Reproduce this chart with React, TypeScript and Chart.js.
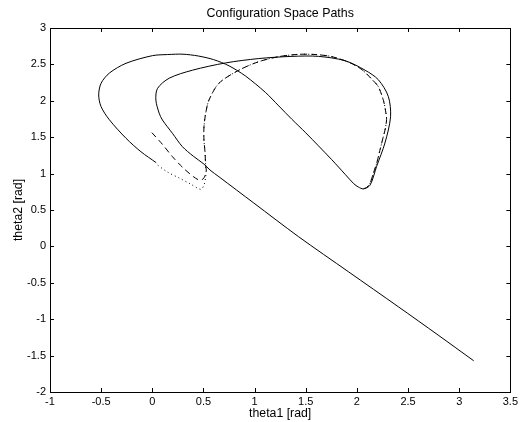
import React, { useEffect, useRef } from "react";
import { Chart, registerables } from "chart.js";

Chart.register(...registerables);

// Solid path (theta1, theta2)
const solidTheta1 = [
  0.038, -0.111, -0.257, -0.42, -0.501, -0.524, -0.501, -0.42, -0.257, 0.002, 0.15, 0.3, 0.45, 0.6, 0.75,
  0.911, 1.106, 1.236, 1.365, 1.5, 1.625, 1.755, 1.885, 1.97, 2.015, 2.063, 2.128, 2.193, 2.274, 2.329,
  2.307, 2.209, 2.08, 1.885, 1.625, 1.365, 1.041, 0.716, 0.392, 0.165, 0.051, 0.035, 0.067, 0.099, 0.197,
  0.294, 0.4, 0.505, 0.564, 0.651, 0.992, 1.43, 1.917, 2.404, 2.794, 3.1416,
];
const solidTheta2 = [
  1.15, 1.3, 1.485, 1.74, 1.92, 2.08, 2.24, 2.38, 2.515, 2.62, 2.635, 2.64, 2.615, 2.565, 2.48,
  2.34, 2.115, 1.93, 1.745, 1.56, 1.38, 1.19, 0.99, 0.86, 0.815, 0.79, 0.84, 1.1, 1.42, 1.78,
  2.06, 2.29, 2.42, 2.55, 2.61, 2.61, 2.58, 2.52, 2.42, 2.31, 2.17, 2.01, 1.83, 1.736, 1.553,
  1.37, 1.24, 1.13, 1.049, 0.957, 0.596, 0.133, -0.348, -0.828, -1.218, -1.5708,
];

// Shared return route of the dashed and dotted paths
const routeTheta1 = [
  0.522, 0.515, 0.505, 0.505, 0.522, 0.554, 0.651, 0.846, 1.04, 1.235, 1.43, 1.6, 1.755, 1.92, 2.047,
  2.15, 2.209, 2.26, 2.284, 2.29, 2.275, 2.258, 2.225, 2.193, 2.16, 2.128, 2.095, 2.063,
];
const routeTheta2 = [
  1.1, 1.3, 1.46, 1.64, 1.83, 2.01, 2.24, 2.42, 2.537, 2.606, 2.638, 2.635, 2.606, 2.53, 2.43,
  2.29, 2.194, 2.0, 1.828, 1.74, 1.6, 1.507, 1.32, 1.14, 1.0, 0.867, 0.81, 0.79,
];

// Dashed path start
const dashedTheta1 = [-0.004, 0.1, 0.197, 0.3, 0.4, 0.457, 0.495, 0.518, 0.528];
const dashedTheta2 = [1.562, 1.4, 1.232, 1.08, 0.96, 0.912, 0.925, 0.98, 1.05];

// Dotted path start
const dottedTheta1 = [0.038, 0.15, 0.262, 0.37, 0.473, 0.505, 0.522, 0.526];
const dottedTheta2 = [1.13, 1.02, 0.94, 0.86, 0.784, 0.843, 0.957, 1.05];

const xTicksMin = -1;
const xTicksMax = 3.5;
const yTicksMin = -2;
const yTicksMax = 3;
const tickStep = 0.5;

const zip = (xs: number[], ys: number[]) => xs.map((x, i) => ({ x, y: ys[i] }));
const fmt = (v: any) => String(Number(Number(v).toFixed(2)));

const FONT = "'Liberation Sans', Arial, Helvetica, sans-serif";

const boxTicks = {
  id: "boxTicks",
  afterDatasetsDraw(chart: any) {
    const { ctx, chartArea: a, scales } = chart;
    const x = scales.x;
    const y = scales.y;
    ctx.save();
    ctx.strokeStyle = "#000";
    ctx.lineWidth = 1;
    ctx.beginPath();
    const L = 4;
    x.ticks.forEach((t: any) => {
      const px = Math.round(x.getPixelForValue(t.value)) + 0.5;
      ctx.moveTo(px, a.bottom);
      ctx.lineTo(px, a.bottom - L);
      ctx.moveTo(px, a.top);
      ctx.lineTo(px, a.top + L);
    });
    y.ticks.forEach((t: any) => {
      const py = Math.round(y.getPixelForValue(t.value)) + 0.5;
      ctx.moveTo(a.left, py);
      ctx.lineTo(a.left + L, py);
      ctx.moveTo(a.right, py);
      ctx.lineTo(a.right - L, py);
    });
    ctx.stroke();
    ctx.strokeRect(
      Math.round(a.left) + 0.5,
      Math.round(a.top) + 0.5,
      Math.round(a.right - a.left),
      Math.round(a.bottom - a.top)
    );
    ctx.restore();
  },
};

export default function App() {
  const ref = useRef<HTMLCanvasElement>(null);

  useEffect(() => {
    if (!ref.current) return;
    const common = {
      showLine: true,
      pointRadius: 0,
      borderColor: "#000",
      borderWidth: 1,
      tension: 0.3,
      fill: false,
    };
    const chart = new Chart(ref.current, {
      type: "scatter",
      data: {
        datasets: [
          { ...common, data: zip(solidTheta1, solidTheta2) },
          {
            ...common,
            borderDash: [6, 4],
            data: zip(dashedTheta1.concat(routeTheta1), dashedTheta2.concat(routeTheta2)),
          },
          {
            ...common,
            borderDash: [1, 3],
            borderDashOffset: 2,
            data: zip(dottedTheta1.concat(routeTheta1), dottedTheta2.concat(routeTheta2)),
          },
        ],
      },
      options: {
        responsive: false,
        animation: false,
        layout: { padding: { left: 0, right: 9, top: 0, bottom: 0 } },
        plugins: {
          legend: { display: false },
          tooltip: { enabled: false },
          title: {
            display: true,
            text: "Configuration Space Paths",
            color: "#000",
            fullSize: false,
            font: { family: FONT, size: 12.4, weight: "normal" },
            padding: { top: 6.5, bottom: 6.6 },
          },
        },
        scales: {
          x: {
            type: "linear",
            min: xTicksMin,
            max: xTicksMax,
            afterFit: (s: any) => {
              s.height = 30;
            },
            border: { display: false },
            grid: { display: false, drawTicks: false },
            ticks: {
              stepSize: tickStep,
              color: "#000",
              padding: 3,
              maxRotation: 0,
              autoSkip: false,
              callback: fmt,
              font: { family: FONT, size: 11 },
            },
            title: {
              display: true,
              text: "theta1 [rad]",
              color: "#000",
              font: { family: FONT, size: 12.3 },
              padding: { top: 0, bottom: 1.5 },
            },
          },
          y: {
            type: "linear",
            min: yTicksMin,
            max: yTicksMax,
            afterFit: (s: any) => {
              s.width = 50;
            },
            border: { display: false },
            grid: { display: false, drawTicks: false },
            ticks: {
              stepSize: tickStep,
              color: "#000",
              padding: 4,
              autoSkip: false,
              callback: fmt,
              font: { family: FONT, size: 11 },
            },
            title: {
              display: true,
              text: "theta2 [rad]",
              color: "#000",
              font: { family: FONT, size: 12.3 },
              padding: { top: 11.6, bottom: 0 },
            },
          },
        },
      },
      plugins: [boxTicks],
    } as any);
    return () => chart.destroy();
  }, []);

  return (
    <div style={{ position: "absolute", left: 0, top: 0, width: 521, height: 422, background: "#fff" }}>
      <canvas ref={ref} width={521} height={422} style={{ display: "block" }} />
    </div>
  );
}
